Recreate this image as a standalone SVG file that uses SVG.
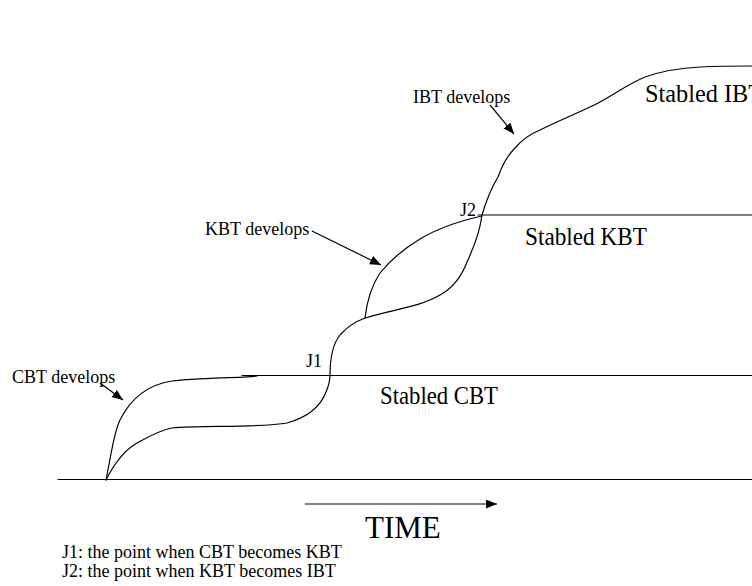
<svg xmlns="http://www.w3.org/2000/svg" width="752" height="586" viewBox="0 0 752 586">
<style>
.c{fill:none;stroke:#000;stroke-width:1.2;stroke-linecap:round;stroke-linejoin:round}
.a{fill:none;stroke:#000;stroke-width:1.2;marker-end:url(#ah)}
.s{font-family:"Liberation Serif","Times New Roman",serif;font-size:18px;fill:#000}
.b{font-family:"Liberation Serif","Times New Roman",serif;font-size:26px;fill:#000}
.t{font-family:"Liberation Serif","Times New Roman",serif;font-size:31px;fill:#000}
</style>
<defs>
<marker id="ah" markerUnits="userSpaceOnUse" markerWidth="12" markerHeight="10" refX="11" refY="4.5" orient="auto">
<path d="M0,0 L11,4.5 L0,9 z" fill="#000"/>
</marker>
</defs>
<rect width="752" height="586" fill="#fff"/>
<g id="axes">
<line class="c" x1="58" y1="479.5" x2="752" y2="479.5"/>
<line class="c" x1="242" y1="375.5" x2="752" y2="375.5"/>
<line class="c" x1="478" y1="215" x2="752" y2="215"/>
</g>
<g id="curves">
<path id="cbt-upper" class="c" d="M106,480 C112,450 114,432 120,420 C130,400 145,385 172,381 C200,378 240,378 257,376"/>
<path id="cbt-lower" class="c" d="M106,480 C115,462 125,450 137,443 C148,437 160,430 172,428 C200,425 260,428 287,423 C305,418 320,408 326,392 C329,385 330,380 330,375 C330,360 332,345 340,335 C347,327 357,321 365,318"/>
<path id="kbt-lower-ibt" class="c" d="M365,318 C390,310 420,307 440,295 C455,287 462,275 467,262 C475,245 480,230 482,215 C485,205 490,190 498,177 C503,163 508,155 515,148 C522,140 530,134 540,130 C560,120 585,110 600,102 C615,94 628,84 645,77 C662,71 680,68 700,67 C720,66 740,66 752,66"/>
<path id="kbt-upper" class="c" d="M365,318 C367,300 372,285 380,273 C392,258 405,248 420,239 C435,230 455,222 482,216"/>
</g>
<g id="connectors">
<line class="a" x1="100" y1="383" x2="123" y2="400"/>
<line class="a" x1="312" y1="231" x2="381" y2="265"/>
<line class="a" x1="490" y1="105" x2="514" y2="134"/>
<line class="a" x1="305" y1="504" x2="497" y2="504"/>
</g>
<g id="labels">
<text class="s" x="12" y="383">CBT develops</text>
<text class="s" x="205" y="235">KBT develops</text>
<text class="s" x="413" y="103">IBT develops</text>
<text class="s" x="306" y="367">J1</text>
<text class="s" x="460" y="216">J2</text>
<text class="b" x="380" y="404" textLength="118" lengthAdjust="spacingAndGlyphs">Stabled CBT</text>
<text class="b" x="525" y="245" textLength="122" lengthAdjust="spacingAndGlyphs">Stabled KBT</text>
<text class="b" x="645" y="102" textLength="118" lengthAdjust="spacingAndGlyphs">Stabled IBT</text>
<text class="t" x="365" y="538">TIME</text>
<text class="s" x="62" y="558">J1: the point when CBT becomes KBT</text>
<text class="s" x="62" y="577">J2: the point when KBT becomes IBT</text>
</g>
</svg>
